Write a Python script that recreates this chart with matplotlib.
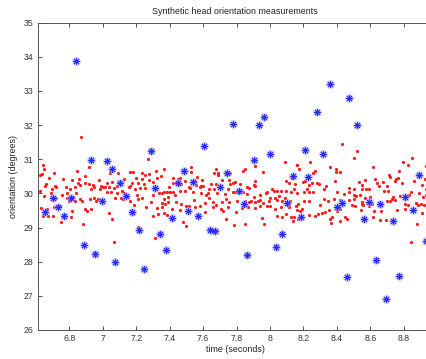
import matplotlib
matplotlib.use("Agg")
import matplotlib.pyplot as plt
from matplotlib.ticker import FixedLocator, FuncFormatter

title = "Synthetic head orientation measurements"
xlabel = "time (seconds)"
ylabel = "orientation (degrees)"

# red dots: measurements (time, value)
red_t = [
    6.868, 6.916, 6.641, 6.647, 6.623, 6.639, 6.707, 6.848, 6.892, 6.679, 6.762, 6.818, 6.856, 6.854, 6.894,
    6.920, 6.978, 6.661, 6.655, 6.717, 6.782, 6.832, 6.862, 6.942, 6.946, 6.609, 6.623, 6.697, 6.723, 6.806,
    6.928, 6.984, 6.992, 6.651, 6.693, 6.758, 6.788, 6.840, 6.824, 6.864, 6.878, 6.926, 6.950, 6.958, 6.974,
    6.723, 6.784, 6.798, 6.834, 6.631, 6.669, 6.711, 6.747, 6.816, 6.896, 6.906, 6.932, 6.641, 6.675, 6.701,
    6.752, 6.812, 6.884,
    7.270, 7.042, 7.090, 7.160, 7.180, 7.234, 7.254, 7.278, 7.316, 7.368, 7.198, 7.346, 7.024, 7.054, 7.124,
    7.160, 7.176, 7.212, 7.232, 7.276, 7.300, 7.324, 7.000, 7.014, 7.036, 7.066, 7.086, 7.156, 7.194, 7.222,
    7.252, 7.244, 7.336, 7.352, 7.368, 7.026, 7.052, 7.086, 7.116, 7.128, 7.204, 7.300, 7.386, 7.076, 7.108,
    7.122, 7.164, 7.208, 7.232, 7.288, 7.366, 7.352, 7.186, 7.260, 7.324, 7.356, 7.372, 7.040, 7.300, 7.328,
    7.368, 7.056, 7.310, 7.068, 7.213,
    7.530, 7.526, 7.678, 7.666, 7.690, 7.688, 7.760, 7.564, 7.422, 7.450, 7.464, 7.494, 7.550, 7.592, 7.710,
    7.754, 7.420, 7.438, 7.468, 7.560, 7.588, 7.598, 7.646, 7.676, 7.760, 7.394, 7.514, 7.524, 7.584, 7.634,
    7.666, 7.748, 7.400, 7.420, 7.464, 7.492, 7.542, 7.590, 7.630, 7.684, 7.776, 7.392, 7.432, 7.618, 7.634,
    7.728, 7.388, 7.436, 7.470, 7.544, 7.584, 7.614, 7.658, 7.676, 7.714, 7.734, 7.754, 7.412, 7.460, 7.496,
    7.514, 7.552, 7.612, 7.660, 7.704, 7.720, 7.750, 7.384, 7.480, 7.500, 7.736,
    7.913, 7.849, 7.841, 7.961, 8.091, 8.163, 7.913, 7.781, 7.793, 7.821, 7.903, 7.913, 8.093, 8.129, 8.113,
    8.149, 7.861, 7.873, 8.013, 8.023, 7.981, 8.039, 8.063, 8.093, 8.125, 8.145, 7.793, 7.837, 7.865, 7.907,
    7.943, 7.973, 8.001, 8.029, 8.053, 8.087, 7.805, 7.853, 7.873, 7.885, 7.913, 7.929, 7.941, 7.961, 7.993,
    8.043, 8.117, 8.073, 7.833, 7.867, 7.911, 7.941, 7.979, 8.001, 8.029, 8.067, 8.113, 8.153, 7.797, 7.953,
    8.043, 8.073, 8.093, 8.127, 8.145, 8.163, 7.783, 7.849, 7.967, 8.139,
    8.431, 8.521, 8.505, 8.241, 8.357, 8.395, 8.417, 8.393, 8.173, 8.161, 8.267, 8.257, 8.207, 8.195, 8.231,
    8.251, 8.281, 8.291, 8.387, 8.337, 8.321, 8.471, 8.531, 8.549, 8.501, 8.161, 8.205, 8.221, 8.231, 8.255,
    8.401, 8.445, 8.475, 8.513, 8.537, 8.505, 8.167, 8.201, 8.231, 8.325, 8.345, 8.381, 8.421, 8.471, 8.505,
    8.551, 8.491, 8.177, 8.191, 8.289, 8.301, 8.311, 8.331, 8.351, 8.401, 8.421, 8.541, 8.511, 8.167, 8.271,
    8.361, 8.371, 8.367, 8.421, 8.451, 8.461, 8.551, 8.233,
    8.850, 8.796, 8.826, 8.930, 8.616, 8.774, 8.710, 8.720, 8.570, 8.630, 8.642, 8.674, 8.756, 8.766, 8.746,
    8.860, 8.924, 8.906, 8.550, 8.574, 8.590, 8.654, 8.702, 8.682, 8.706, 8.790, 8.840, 8.890, 8.934, 8.936,
    8.914, 8.570, 8.600, 8.738, 8.730, 8.720, 8.780, 8.830, 8.930, 8.554, 8.590, 8.610, 8.700, 8.750, 8.810,
    8.824, 8.806, 8.870, 8.884, 8.922, 8.902, 8.622, 8.666, 8.760, 8.910, 8.614, 8.660, 8.694, 8.878, 8.840,
]
red_v = [
    31.66, 30.76, 30.82, 30.72, 30.55, 30.56, 30.59, 30.65, 30.51, 30.45, 30.42, 30.39, 30.41, 30.31, 30.31,
    30.28, 30.39, 30.27, 30.22, 30.22, 30.18, 30.18, 30.25, 30.25, 30.18, 30.05, 30.07, 30.14, 30.18, 30.12,
    30.14, 30.12, 30.22, 29.93, 30.02, 29.96, 30.02, 30.02, 29.90, 29.84, 29.78, 29.85, 29.87, 29.79, 29.83,
    29.88, 29.86, 29.78, 29.79, 29.58, 29.53, 29.59, 29.63, 29.48, 29.55, 29.49, 29.55, 29.34, 29.34, 29.34,
    29.16, 29.32, 29.10,
    31.02, 30.59, 30.61, 30.64, 30.64, 30.61, 30.53, 30.56, 30.65, 30.72, 30.46, 30.51, 30.30, 30.34, 30.42,
    30.23, 30.30, 30.30, 30.41, 30.39, 30.34, 30.44, 30.20, 30.20, 30.20, 30.15, 30.22, 30.20, 30.12, 30.15,
    30.15, 30.28, 30.02, 30.02, 30.04, 30.03, 30.03, 30.00, 30.08, 30.00, 29.95, 29.95, 30.03, 29.88, 29.88,
    29.83, 29.79, 29.83, 29.86, 29.74, 29.83, 29.71, 29.66, 29.59, 29.56, 29.59, 29.68, 29.44, 29.34, 29.40,
    29.42, 29.24, 28.70, 28.59, 29.03,
    30.78, 30.63, 30.72, 30.61, 30.61, 30.53, 30.61, 30.49, 30.44, 30.43, 30.44, 30.37, 30.37, 30.39, 30.39,
    30.39, 30.30, 30.30, 30.29, 30.26, 30.22, 30.22, 30.29, 30.27, 30.29, 30.18, 30.18, 30.15, 30.18, 30.14,
    30.12, 30.12, 30.05, 30.03, 30.08, 30.08, 30.04, 30.00, 30.02, 30.02, 30.05, 29.90, 29.94, 29.94, 29.88,
    29.98, 29.76, 29.76, 29.69, 29.81, 29.63, 29.73, 29.75, 29.65, 29.76, 29.83, 29.76, 29.53, 29.51, 29.63,
    29.63, 29.61, 29.46, 29.59, 29.53, 29.49, 29.59, 29.36, 29.16, 29.06, 29.26,
    30.81, 30.71, 30.67, 30.64, 30.92, 30.82, 30.37, 30.31, 30.33, 30.28, 30.25, 30.22, 30.37, 30.44, 30.31,
    30.29, 30.18, 30.16, 30.14, 30.06, 30.04, 30.08, 30.08, 30.08, 30.04, 30.12, 30.03, 30.05, 29.98, 29.90,
    29.95, 30.00, 29.87, 29.87, 29.92, 29.87, 29.79, 29.79, 29.76, 29.78, 29.74, 29.79, 29.81, 29.73, 29.79,
    29.81, 29.79, 29.79, 29.58, 29.61, 29.57, 29.63, 29.63, 29.64, 29.53, 29.59, 29.59, 29.63, 29.46, 29.27,
    29.35, 29.30, 29.40, 29.30, 29.30, 29.51, 29.07, 29.11, 29.11, 29.20,
    31.45, 31.25, 31.03, 30.91, 30.76, 30.72, 30.64, 30.64, 30.71, 30.83, 30.67, 30.59, 30.37, 30.33, 30.25,
    30.30, 30.31, 30.27, 30.36, 30.22, 30.13, 30.15, 30.32, 30.25, 30.12, 30.00, 30.05, 30.12, 30.03, 30.05,
    30.03, 29.98, 30.03, 29.93, 29.94, 29.94, 29.69, 29.79, 29.79, 29.84, 29.79, 29.84, 29.81, 29.81, 29.85,
    29.76, 29.66, 29.49, 29.53, 29.40, 29.67, 29.44, 29.47, 29.51, 29.49, 29.55, 29.51, 29.63, 29.26, 29.34,
    29.24, 29.30, 29.14, 29.18, 29.32, 29.24, 29.69, 29.37,
    31.04, 30.93, 30.82, 30.80, 30.76, 30.66, 30.54, 30.49, 30.39, 30.41, 30.31, 30.34, 30.41, 30.44, 30.37,
    30.37, 30.41, 30.25, 30.14, 30.12, 30.12, 30.22, 30.22, 30.08, 30.08, 30.30, 30.04, 30.02, 30.14, 29.92,
    29.89, 29.86, 29.89, 29.90, 29.84, 29.79, 29.92, 29.94, 29.95, 29.65, 29.63, 29.69, 29.77, 29.81, 29.69,
    29.66, 29.53, 29.73, 29.66, 29.65, 29.69, 29.48, 29.48, 29.50, 29.42, 29.30, 29.22, 29.22, 29.09, 28.59,
]

# blue asterisks: outlier measurements (time, value)
blue_t = [
    6.840, 8.360, 8.475, 8.280, 7.966, 7.780, 7.935, 8.518, 6.930, 7.027, 7.053, 7.288, 7.605, 7.906, 8.001,
    8.209, 8.315, 8.892, 7.486, 7.743, 7.703, 7.538, 7.450, 7.105, 7.314, 7.816, 8.230, 8.137, 6.700, 6.810,
    6.995, 7.140, 7.842, 8.103, 8.430, 8.402, 8.593, 8.657, 8.805, 8.853, 6.655, 6.734, 6.770, 7.177, 7.511,
    7.569, 7.416, 8.563, 8.733, 8.183, 7.215, 7.639, 7.671, 7.342, 8.073, 6.888, 6.954, 7.075, 7.248, 7.378,
    7.862, 8.036, 8.462, 8.631, 8.693, 8.769, 8.932,
]
blue_v = [
    33.89, 33.20, 32.79, 32.38, 32.23, 32.03, 31.99, 31.99, 30.98, 30.94, 30.72, 31.25, 31.40, 30.98, 31.15,
    31.27, 31.15, 30.54, 30.66, 30.61, 30.20, 30.34, 30.30, 30.30, 30.15, 30.08, 30.47, 30.52, 29.87, 29.87,
    29.77, 29.91, 29.69, 29.71, 29.71, 29.59, 29.75, 29.68, 29.90, 29.51, 29.46, 29.61, 29.35, 29.45, 29.48,
    29.35, 29.27, 29.24, 29.20, 29.31, 28.93, 28.93, 28.89, 28.80, 28.80, 28.49, 28.23, 27.98, 27.79, 28.34,
    28.19, 28.43, 27.56, 28.04, 26.92, 27.57, 28.60,
]

x_ticks = [6.8, 7.0, 7.2, 7.4, 7.6, 7.8, 8.0, 8.2, 8.4, 8.6, 8.8]
y_ticks = [26, 27, 28, 29, 30, 31, 32, 33, 34, 35]

plt.rcParams['font.family'] = ['Liberation Sans', 'DejaVu Sans']
fig = plt.figure(figsize=(4.27, 3.59), dpi=100)
ax = fig.add_axes([0.0883, 0.0808, 0.924, 0.856])

ax.plot(red_t, red_v, linestyle='none', marker='o', ms=2.3, mfc='#ff1a1a', mec='none')
ax.plot(blue_t, blue_v, linestyle='none', marker=(8, 2, 0), ms=6, mec='#a8a8ff', mew=1.8, alpha=0.55)
ax.plot(blue_t, blue_v, linestyle='none', marker=(8, 2, 0), ms=5, mec='#2a2aff', mew=0.7)

ax.set_xlim(6.611, 8.97)
ax.set_ylim(26, 35)
ax.xaxis.set_major_locator(FixedLocator(x_ticks))
ax.yaxis.set_major_locator(FixedLocator(y_ticks))
ax.xaxis.set_major_formatter(FuncFormatter(lambda v, p: f"{v:g}"))
ax.tick_params(direction='in', length=3, width=0.6, top=True, right=True,
               labelsize=6.3, colors='#333333', pad=3)
for s in ax.spines.values():
    s.set_color('#555555')
    s.set_linewidth(0.7)

ax.set_title(title, fontsize=6.4, pad=6, color='#222222')
ax.set_xlabel(xlabel, fontsize=6.4, labelpad=1, color='#222222')
ax.set_ylabel(ylabel, fontsize=6.4, labelpad=4, color='#222222')

fig.savefig("out.png", dpi=100)
